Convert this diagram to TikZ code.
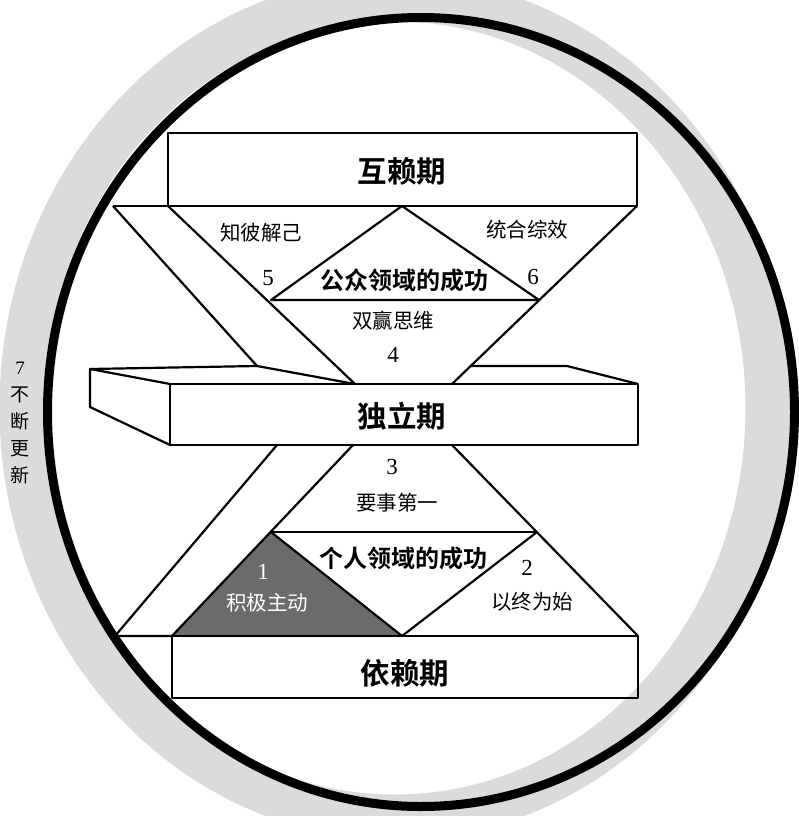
\documentclass[tikz,border=0pt]{standalone}
\usepackage{fontspec}
\setmainfont{Liberation Serif}
\newfontfamily\cjk{Noto Sans CJK SC}
\newfontfamily\cjkb{Noto Sans CJK SC Bold}
\definecolor{halo}{gray}{0.86}
\definecolor{darkfill}{gray}{0.42}

\begin{document}
\begin{tikzpicture}[x=1pt,y=-1pt,line width=2.2pt,line join=round,
    stage/.style={font=\cjkb\fontsize{29.5}{29.5}\selectfont},
    victory/.style={font=\cjkb\fontsize{24}{24}\selectfont},
    habit/.style={font=\cjk\fontsize{20.5}{20.5}\selectfont},
    num/.style={font=\fontsize{23}{23}\selectfont}]
\useasboundingbox (0,0) rectangle (799,816);
  % ring
  \draw[halo,line width=45pt] (395,408) ellipse [x radius=373,y radius=409];
  \draw[line width=9pt] (421,412) ellipse [x radius=373.5,y radius=394.5];
  % corners
  \coordinate (t0) at (113,206);
  \coordinate (t1) at (168,206);
  \coordinate (t2) at (402,206);
  \coordinate (t3) at (637,206);
  \coordinate (pl) at (271,300);
  \coordinate (pr) at (539,300);
  \coordinate (s0) at (90,369);
  \coordinate (s1) at (170,384);
  \coordinate (s2) at (170,445);
  \coordinate (s3) at (90,407);
  \coordinate (m0) at (257,366);
  \coordinate (m2) at (355,384);
  \coordinate (m3) at (452,384);
  \coordinate (m4) at (470,366);
  \coordinate (m5) at (567,366);
  \coordinate (m6) at (638,384);
  \coordinate (u0) at (277,445);
  \coordinate (u1) at (353,445);
  \coordinate (u2) at (452,445);
  \coordinate (q1) at (271,532);
  \coordinate (q2) at (537,532);
  \coordinate (d0) at (115,636);
  \coordinate (d1) at (172,636);
  \coordinate (d2) at (402,636);
  \coordinate (d3) at (638,636);
  % public victory
  \draw (168,133) rectangle (637,206);
  \draw (t0) -- (t1);
  \draw (t0) -- (m0) -- (m2);
  \draw (t1) -- (m2);
  \draw (t3) -- (m3);
  \draw (t2) -- (pl) -- (pr) -- cycle;
  % independence
  \draw (170,384) rectangle (638,445);
  \draw (s1) -- (s0) -- (s3) -- (s2);
  \draw (s0) -- (m0);
  \draw (m4) -- (m5) -- (m6);
  % private victory
  \fill[darkfill] (q1) -- (d2) -- (d1) -- cycle;
  \draw (u0) -- (d0) -- (d1);
  \draw (u1) -- (d1);
  \draw (u2) -- (d3);
  \draw (q1) -- (q2);
  \draw (q1) -- (d2) -- (q2);
  \draw (172,636) rectangle (638,698);
  % texts
  \node[stage] (hu) at (402,171) {互赖期};
  \node[stage] (du) at (402,416) {独立期};
  \node[stage] (yi) at (405,673) {依赖期};
  \node[victory] (gz) at (404,280) {公众领域的成功};
  \node[victory] (gr) at (403,558) {个人领域的成功};
  \node[habit] (h5) at (261,233) {知彼解己};
  \node[num] (n5) at (268,278) {5};
  \node[habit] (h6) at (527,230) {统合综效};
  \node[num] (n6) at (533,277) {6};
  \node[habit] (h4) at (393,321) {双赢思维};
  \node[num] (n4) at (393,355) {4};
  \node[num] (n3) at (392,467) {3};
  \node[habit] (h3) at (397,503) {要事第一};
  \node[num,white] (n1) at (263,572) {1};
  \node[habit,white] (h1) at (267,603) {积极主动};
  \node[num] (n2) at (527,568) {2};
  \node[habit] (h2) at (532,602) {以终为始};
  \node[align=center,font=\cjk\fontsize{19}{27}\selectfont] (h7) at (20,423) {{\rmfamily 7}\\不\\断\\更\\新};
\end{tikzpicture}
\end{document}
